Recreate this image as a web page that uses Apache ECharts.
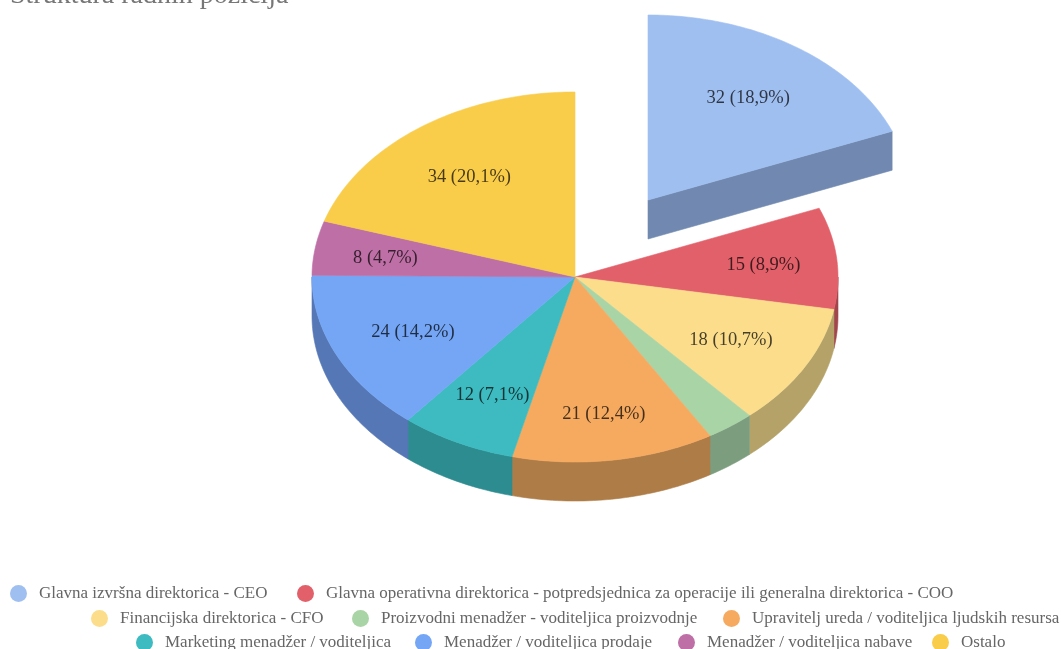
<!DOCTYPE html>
<html><head><meta charset="utf-8">
<style>html,body{margin:0;padding:0;background:#fff}#c{width:1061px;height:649px}</style>
<script src="https://cdn.jsdelivr.net/npm/echarts@6/dist/echarts.min.js"></script>
</head><body><div id="c"></div>
<script>
const titleText = 'Struktura radnih pozicija';
const categories = [
  'Glavna izvršna direktorica - CEO',
  'Glavna operativna direktorica - potpredsjednica za operacije ili generalna direktorica - COO',
  'Financijska direktorica - CFO',
  'Proizvodni menadžer - voditeljica proizvodnje',
  'Upravitelj ureda / voditeljica ljudskih resursa',
  'Marketing menadžer / voditeljica',
  'Menadžer / voditeljica prodaje',
  'Menadžer / voditeljica nabave',
  'Ostalo'
];
const values = [32, 15, 18, 5, 21, 12, 24, 8, 34];
const topColors = ['#A0BFF1','#E2606A','#FBDD8C','#A9D4A6','#F6AA60','#3DBBC0','#74A6F5','#BE6FA6','#F9CC4A'];
const sideColors = ['#7189B0','#A2454C','#B4A268','#7C9E7F','#AE7C47','#2D8C90','#5677B6','#8A5078','#B49436'];
const labelRadius = [0.68, 0.72, 0.68, 0, 0.74, 0.70, 0.68, 0.73, 0.68];
const legendLeft = [10, 297, 91, 352, 723, 136, 415, 678, 932];
const legendTop = [585, 585, 610, 610, 610, 634, 634, 634, 634];

const cx = 575, cy = 277, rx = 263, ry = 185, depth = 39, explodeX = 73, explodeY = -77;
const total = values.reduce((a,b)=>a+b,0);
const pt = (a,ox,oy,r=1,dy=0)=>[cx+ox+rx*r*Math.sin(a), cy+oy+ry*r*(-Math.cos(a))+dy];
const D = Math.PI/180;
function arc(a0,a1,ox,oy,dy){
  const pts=[]; const n=Math.max(2,Math.ceil((a1-a0)/D));
  for(let i=0;i<=n;i++) pts.push(pt(a0+(a1-a0)*i/n,ox,oy,1,dy));
  return pts;
}
function makeRender(idx){
  return function(){
    let sum=0; for(let i=0;i<idx;i++) sum+=values[i];
    const a0=sum/total*2*Math.PI, a1=(sum+values[idx])/total*2*Math.PI;
    const ox=idx===0?explodeX:0, oy=idx===0?explodeY:0;
    const top=topColors[idx], side=sideColors[idx];
    const children=[];
    const poly=(points,c)=>({type:'polygon',shape:{points},style:{fill:c,stroke:c,lineWidth:0.6},silent:true});
    if(idx===0){
      const e=pt(a1,ox,oy), c0=[cx+ox,cy+oy];
      children.push(poly([c0,e,[e[0],e[1]+depth],[c0[0],c0[1]+depth]],side));
    }
    const s0=Math.max(a0,Math.PI/2), s1=Math.min(a1,Math.PI*1.5);
    if(s1>s0){
      const upper=arc(s0,s1,ox,oy,0), lower=arc(s0,s1,ox,oy,depth).reverse();
      children.push(poly(upper.concat(lower),side));
    }
    children.push(poly([[cx+ox,cy+oy]].concat(arc(a0,a1,ox,oy,0)),top));
    if(labelRadius[idx]>0){
      const m=(a0+a1)/2, p=pt(m,ox,oy,labelRadius[idx]);
      const pct=(values[idx]/total*100).toFixed(1).replace('.',',');
      children.push({type:'text',x:p[0],y:p[1]+2,silent:true,style:{
        text:values[idx]+' ('+pct+'%)',x:0,y:0,align:'center',verticalAlign:'middle',
        fill:'rgba(0,0,0,0.72)',font:'18.5px "Liberation Serif", serif'}});
    }
    return {type:'group',children};
  };
}
const chart=echarts.init(document.getElementById('c'),null,{renderer:'canvas'});
chart.setOption({
  animation:false,
  backgroundColor:'#fff',
  title:{text:titleText,left:5,top:-23,textStyle:{color:'#777',fontSize:28,fontWeight:'normal',fontFamily:'"Liberation Serif", serif'}},
  tooltip:{show:false},
  legend:categories.map((name,i)=>({
    data:[name],left:legendLeft[i],top:legendTop[i],width:1100,orient:'horizontal',icon:'circle',
    itemWidth:17,itemHeight:17,selectedMode:false,padding:0,
    textStyle:{color:'#666',fontSize:17,fontFamily:'"Liberation Serif", serif',padding:[0,0,0,7]}
  })),
  series:categories.map((name,i)=>({
    type:'custom',name,coordinateSystem:'none',silent:true,
    itemStyle:{color:topColors[i]},
    data:[{name,value:values[i]}],
    renderItem:makeRender(i)
  }))
});
</script></body></html>
